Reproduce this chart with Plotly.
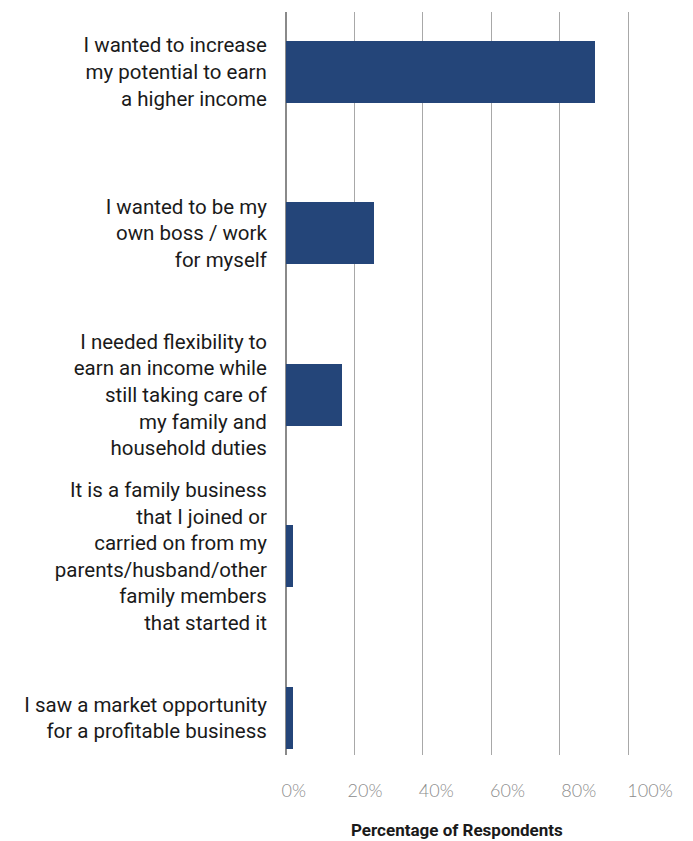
import plotly.graph_objects as go

# Survey: reasons for starting a business
reasons = [
    "I wanted to increase<br>my potential to earn<br>a higher income",
    "I wanted to be my<br>own boss / work<br>for myself",
    "I needed flexibility to<br>earn an income while<br>still taking care of<br>my family and<br>household duties",
    "It is a family business<br>that I joined or<br>carried on from my<br>parents/husband/other<br>family members<br>that started it",
    "I saw a market opportunity<br>for a profitable business",
]
share_pct = [90.3, 25.7, 16.4, 2.0, 2.0]

tick_vals = [0, 20, 40, 60, 80, 100]
tick_text = ["0%", "20%", "40%", "60%", "80%", "100%"]

BAR_COLOR = "#244579"
W, H = 693, 841
L, R, T, B = 286, 33, 12, 86
plot_w = W - L - R            # 374 px
grid_w = 342                  # px spanned by 0..100 on the grid axis
px_per_unit = grid_w / 100

# label axis is slightly wider than the grid: 0% sits 7.7 px right of
# the zero line and 100% sits at 364 px from the left edge
lab_px_per_unit = (364 - 7.7) / 100
lab_range = [-7.7 / lab_px_per_unit, (plot_w - 7.7) / lab_px_per_unit]

fig = go.Figure()
fig.add_trace(go.Bar(
    y=reasons, x=share_pct, orientation="h",
    marker=dict(color=BAR_COLOR, line=dict(width=0)),
    width=0.384, hoverinfo="skip", showlegend=False,
))
# invisible copy that carries the percentage label axis
fig.add_trace(go.Bar(
    y=reasons, x=share_pct, orientation="h", xaxis="x2",
    marker=dict(color="rgba(0,0,0,0)", line=dict(width=0)), width=0.384,
    hoverinfo="skip", showlegend=False,
))

fig.update_layout(
    width=W, height=H,
    margin=dict(l=L, r=R, t=T, b=B, autoexpand=False),
    paper_bgcolor="white", plot_bgcolor="white",
    bargap=0,
    xaxis=dict(
        range=[0, plot_w / px_per_unit],
        tickvals=tick_vals, showticklabels=False, ticks="",
        showgrid=True, gridcolor="#a8a8a8", gridwidth=1.3,
        zeroline=True, zerolinecolor="#8a8a8a", zerolinewidth=1.5,
        showline=False,
    ),
    xaxis2=dict(
        overlaying="x", anchor="y", side="bottom",
        range=lab_range,
        tickvals=tick_vals, ticktext=tick_text,
        ticks="outside", ticklen=19, tickcolor="rgba(0,0,0,0)",
        tickfont=dict(family="Lato", size=18, color="#8c8c8c", weight=300),
        showgrid=False, zeroline=False, showline=False,
    ),
    yaxis=dict(
        type="category", categoryorder="array", categoryarray=reasons,
        range=[4.23, -0.37],
        ticks="outside", ticklen=14, tickcolor="rgba(0,0,0,0)",
        tickfont=dict(family="Roboto", size=20.5, color="#1a1a1a"),
        showgrid=False, zeroline=False, showline=False,
    ),
    annotations=[dict(
        text="<b>Percentage of Respondents</b>",
        xref="paper", yref="paper",
        x=(grid_w / 2) / plot_w, y=-75 / (H - T - B),
        xanchor="center", yanchor="middle", showarrow=False,
        font=dict(family="Roboto", size=17, color="#1a1a1a"),
    )],
)

fig.write_html("out.html")
